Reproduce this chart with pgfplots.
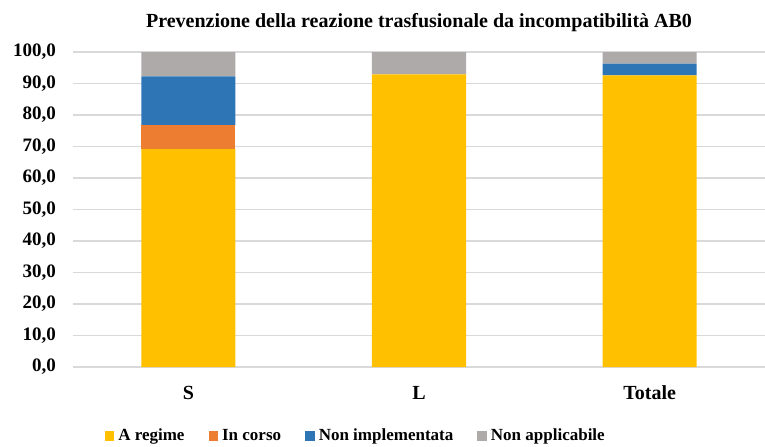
\documentclass[border=0pt]{standalone}
\usepackage{pgfplots}
\pgfplotsset{compat=1.18}
\usepackage{fontspec}
\setmainfont{Liberation Serif}
\definecolor{cYellow}{HTML}{FFC000}
\definecolor{cOrange}{HTML}{ED7D31}
\definecolor{cBlue}{HTML}{2E75B6}
\definecolor{cGray}{HTML}{AEAAAA}
\definecolor{cGrid}{HTML}{D9D9D9}

\begin{document}
\begin{tikzpicture}
\useasboundingbox (-36.5pt,-39.5pt) rectangle (346pt,183.5pt);
\begin{axis}[
    at={(0,0)}, anchor=south west,
    scale only axis, width=346pt, height=157.5pt,
    ybar stacked, bar width=47pt,
    xmin=-0.5, xmax=2.5, ymin=0, ymax=100,
    xtick={0,1,2}, xticklabels={S,L,Totale},
    ytick={0,10,...,100},
    axis line style={draw=none},
    major tick length=0pt,
    ymajorgrids, grid style={cGrid, line width=0.6pt},
    font=\fontsize{9.5}{11}\selectfont\bfseries,
    /pgf/number format/assume math mode=true,
    /pgf/number format/fixed,
    /pgf/number format/fixed zerofill,
    /pgf/number format/precision=1,
    /pgf/number format/use comma,
    yticklabel style={anchor=east, xshift=-5pt},
    xticklabel style={yshift=-6pt, font=\fontsize{10}{12}\selectfont\bfseries},
    title={Prevenzione della reazione trasfusionale da incompatibilità AB0},
    title style={yshift=0.5pt, font=\fontsize{10}{12}\selectfont\bfseries},
    legend style={at={(0.41,-0.219)}, anchor=center, draw=none, legend columns=4,
        /tikz/every even column/.append style={column sep=10pt},
        font=\fontsize{8.5}{10}\selectfont\bfseries},
    legend image code/.code={\fill[#1] (0pt,-2.4pt) rectangle (4.8pt,2.4pt);},
]
\addplot[fill=cYellow, draw=none] coordinates {(0,69.2) (1,92.9) (2,92.6)};
\addplot[fill=cOrange, draw=none] coordinates {(0,7.7) (1,0) (2,0)};
\addplot[fill=cBlue, draw=none] coordinates {(0,15.4) (1,0) (2,3.7)};
\addplot[fill=cGray, draw=none] coordinates {(0,7.7) (1,7.1) (2,3.7)};
\legend{A regime, In corso, Non implementata, Non applicabile}
\end{axis}
\end{tikzpicture}
\end{document}
